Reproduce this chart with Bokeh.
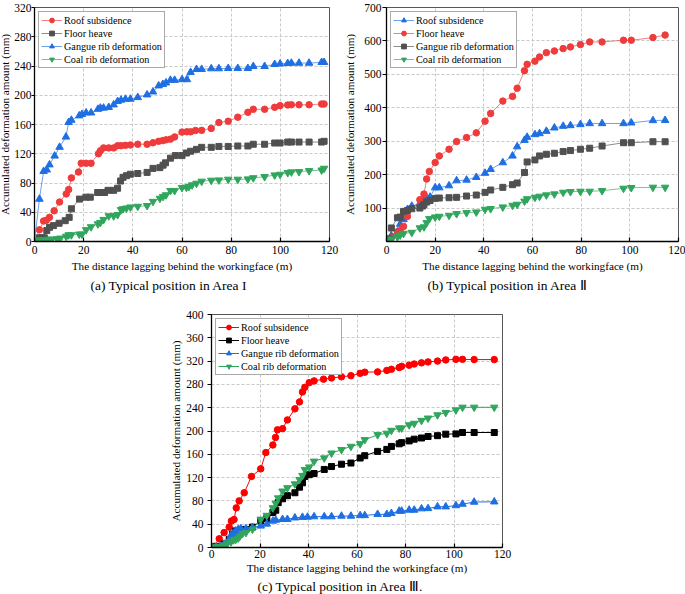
from bokeh.plotting import figure
from bokeh.models import Range1d, FixedTicker, Legend, LegendItem, Title, Spacer
from bokeh.layouts import row, column
from bokeh.core.properties import value
from bokeh.embed import file_html
from bokeh.resources import INLINE

FONT = "Liberation Serif"

# ---------------- Panel (a) : Area I ----------------
a_roof_x = [0, 2, 3.7, 4.8, 6.1, 8, 10.2, 12.9, 13.9, 15, 17.9, 19, 21, 23, 26, 26.8, 28.1, 30.2, 32.2, 33.8,
            35.2, 37, 39, 42, 45.8, 48.2, 50.5, 52.2, 53.5, 55.3, 57, 60, 62, 63.5, 65.5, 68, 71.9, 75, 78.8, 82.7,
            86.8, 89, 93.6, 97.7, 99.9, 103, 104.5, 107.6, 111.7, 116.8, 117.8]
a_roof_y = [0, 16, 28, 29, 33, 42, 54, 65, 71, 87, 95, 107, 107, 107, 120, 124, 128, 128, 128, 131,
            131, 131.5, 132, 133, 133, 135, 137, 138, 139, 140, 143, 149.6, 150, 150, 151.8, 152, 154.6, 162.7, 164.5, 170,
            176.7, 180.8, 180.8, 183.5, 185.8, 186.7, 187, 187, 187, 188, 188]
a_floor_x = [0, 1.9, 3, 4, 5, 6.1, 7.7, 10, 12.5, 14.1, 15, 18.3, 20.9, 22.7, 25.7, 27.2, 28.5, 29.9, 32.2, 33.8,
             35, 36, 37.4, 39, 42, 45.8, 48.2, 51, 52.3, 53.3, 55.3, 57.3, 60, 61.8, 63.5, 65.9, 68, 71.9, 75, 78.8,
             82.7, 86.8, 89, 93.6, 97.7, 99.9, 103, 104.5, 107.6, 111.7, 116.8, 117.8]
a_floor_y = [0, 5, 5, 5, 15, 19.4, 21.7, 25, 28.5, 33, 44.7, 58, 60.6, 60.6, 67, 67, 67, 70, 70, 72.8,
             82.7, 87.7, 90, 92, 93, 94.5, 100, 101, 104.4, 107.6, 114, 117.5, 117.5, 121, 123.4, 126, 128.8, 128.8, 130, 130,
             130.6, 130.6, 133, 133, 134.7, 134.7, 136, 136, 136, 136, 136, 137]
a_gangue_x = [0, 2, 3.7, 5, 6.1, 8.2, 10.2, 12.8, 13.9, 15, 18.2, 19.3, 21, 23, 25.8, 26.8, 28.1, 30.2, 32.2, 33.8,
              35.2, 37, 39, 42, 45.8, 48.2, 50.5, 52.2, 53.5, 55.3, 57, 60, 62, 63.5, 65.9, 68, 71.9, 75, 78.8, 82.7,
              86.8, 89, 93.6, 97.7, 99.9, 103, 104.5, 107.6, 111.7, 116.8, 117.8]
a_gangue_y = [0, 58, 96, 98, 105, 117, 129, 143, 163, 166, 172, 174, 176, 176, 181, 182.6, 182.6, 183.5, 187, 191.6,
              193.4, 194.8, 194.8, 197, 200.7, 204.7, 213, 215, 217, 220.6, 220.6, 221.5, 221.5, 231.4, 235.5, 235.5, 236.4, 236.4, 236.8, 236.8,
              236.8, 239.5, 239.5, 242.3, 243, 243.6, 244, 244, 244, 245, 245]
a_coal_x = [0, 2, 3.7, 5.7, 7, 9.1, 10.5, 12.9, 13.9, 15, 18.2, 19.3, 21, 23, 25.8, 26.8, 28.1, 30.2, 32.2, 33.8,
            35.2, 36, 37.4, 39, 42, 45.8, 48.2, 51, 52.3, 53.5, 55.3, 57, 60, 61.8, 62.8, 64.1, 65.9, 68, 71.9, 75,
            78.8, 82.7, 86.8, 89, 93.6, 97.7, 99.9, 103, 104.5, 107.6, 111.7, 116.8, 117.8]
a_coal_y = [0, 2, 2, 3, 3, 3.6, 4.5, 7, 9, 9, 10, 10, 16, 20, 24, 26, 30, 35, 35, 36.6,
            43.4, 44.7, 45.6, 47, 48, 49, 54.7, 59, 61.5, 63.7, 69.6, 69.6, 73.7, 74, 75, 77.3, 79.5, 82.3, 83.6, 84,
            85, 85, 85.4, 87, 88.6, 90.8, 91.7, 94, 95, 95.4, 96.7, 97.6, 100]

# ---------------- Panel (b) : Area II ----------------
b_roof_x = [1.1, 2, 4.5, 5.6, 7, 8.6, 10.4, 13.7, 14.8, 15.4, 16.5, 17.9, 20, 21.7, 25.7, 28.8, 32.9, 36.9, 40.5, 42.8,
            47.8, 51.8, 53.7, 56.7, 57.8, 61, 62.9, 65.7, 69, 72.6, 75.6, 79.7, 83.5, 88.6, 97.4, 100.6, 109.5, 114.5]
b_roof_y = [7, 17, 29, 52, 66, 96, 106, 113, 120, 125.5, 129, 133, 161, 161, 167, 182, 184, 192, 204.5, 216,
            236, 256, 283.6, 303, 312, 320, 323, 330, 340, 345, 347, 350, 353, 353, 353, 355, 362, 362.6]
b_floor_x = [1.1, 2, 4.5, 5.6, 7, 8.6, 13.7, 15.4, 16.5, 17.6, 20, 21.7, 25.7, 28.8, 32.9, 36.9, 40.5, 42.8, 47.8, 51.8,
             53.7, 56.7, 57.8, 61, 62.9, 65.7, 69, 72.6, 75.6, 79.7, 83.5, 88.6, 97.4, 100.6, 109.5, 114.5]
b_floor_y = [9, 11, 29, 32, 45, 75, 125, 142, 187, 209.5, 236, 256, 276, 299, 311, 325, 360, 383, 420, 434,
             458.5, 511, 530, 539.5, 552, 565, 570, 577, 582, 589, 597, 597, 602, 602, 610, 617.6]
b_gangue_x = [1.1, 2, 4.5, 5.6, 7, 8.6, 10.4, 13.7, 14.8, 15.4, 16.5, 17.9, 20, 21.7, 25.7, 28.8, 32.9, 36.9, 40.5, 42.8,
              47.8, 51.8, 53.7, 56.7, 57.8, 61, 62.9, 65.7, 69, 72.6, 75.6, 79.7, 83.5, 88.6, 97.4, 100.6, 109.5, 114.5]
b_gangue_y = [7, 40.5, 71, 73, 90, 93, 98, 100, 106, 110, 118, 122.5, 129, 130, 131, 132, 136, 139, 147, 154,
              162, 170, 175, 206.5, 238, 244, 256, 261, 264, 269, 272, 276, 279, 285.6, 295.5, 295.5, 298.4, 298.4]
b_coal_x = [1.1, 2, 4.5, 5.6, 7, 10.4, 13.7, 15.4, 16.5, 17.6, 20, 21.7, 25.7, 28.8, 32.9, 36.9, 40.5, 42.8, 47.8, 51.8,
            53.7, 56.7, 57.8, 61, 62.9, 65.7, 69, 72.6, 75.6, 79.7, 83.5, 88.6, 97.4, 100.6, 109.5, 114.5]
b_coal_y = [4, 7, 14, 19, 24, 27, 40.5, 43.5, 56, 68, 73, 75, 78, 83, 86, 88, 96, 98, 103, 108,
            111, 120.5, 127.5, 132, 135, 139, 142, 147, 149, 150, 150, 152, 159, 161, 162, 162]

# ---------------- Panel (c) : Area III ----------------
c_roof_x = [0, 1.1, 3.2, 5.2, 7.3, 8.2, 9.3, 10.2, 11.4, 13.5, 16.5, 20.3, 22.4, 25.3, 26.4, 27.2, 29.3, 31.3, 34.4, 36.3,
            37.5, 38.5, 40.3, 42.3, 46.2, 49.5, 53.6, 57.5, 61.3, 63.2, 68.5, 72.3, 74.2, 77.4, 78.4, 81.5, 83.6, 86.6, 89.3, 93.2,
            96.6, 100.8, 103.5, 108.3, 116.6]
c_roof_y = [0, 2, 15, 25.6, 35, 45.5, 48, 68, 80, 94, 122, 135, 163, 176, 189, 202, 204, 219, 238, 250,
            267, 275, 283, 286, 289, 291, 293, 295, 299, 301, 301.5, 304, 306, 309, 311, 313, 315, 317, 318.6, 320,
            322, 323, 323, 322.6, 322.6]
c_floor_x = [0, 1.8, 3.8, 5.2, 7.3, 8.7, 10, 12.1, 14.2, 16.9, 20.3, 22.8, 25.3, 26.5, 27.5, 29.3, 31.3, 34.4, 36.3, 37.5,
             38.5, 40.3, 42.3, 46.5, 49.5, 53.6, 57.5, 61.3, 63.2, 68.5, 72.3, 74.2, 77.4, 78.4, 81.5, 83.6, 86.6, 89.3, 93.2, 96.6,
             100.8, 103.5, 108.3, 116.6]
c_floor_y = [0, 1, 2, 6, 14, 23, 28.5, 31, 31, 35, 45.5, 50, 60, 64, 77, 83.6, 89, 94, 103.6, 111,
             122, 125, 127, 134, 139, 143, 145, 153.6, 157.6, 165, 168.4, 173.5, 178, 180, 183, 186, 188, 190.6, 192, 194.6,
             195, 197.4, 197.4, 197.4]
c_gangue_x = [0, 1.8, 3.8, 5.2, 7.3, 8, 9.1, 10, 11, 12.1, 14.2, 16.9, 20.3, 22.8, 25.3, 26.5, 29.3, 31.3, 34.4, 37.5,
              39.6, 42.3, 46.5, 49.5, 53.6, 57.5, 61.3, 63.2, 68.5, 72.3, 74.2, 77.4, 78.4, 81.5, 83.6, 86.6, 89.3, 93.2, 96.6, 100.8,
              103.5, 108.3, 116.6]
c_gangue_y = [0, 1, 2, 6, 14, 21, 24.5, 28.5, 31, 32.4, 32.4, 34.7, 37, 40.4, 45.5, 47, 48.4, 48.4, 51, 52,
              52.3, 53, 53, 53, 54, 54, 55, 55, 57, 57, 58.6, 62.6, 62.6, 64.3, 64.3, 66.6, 67, 70, 70, 72,
              74.5, 78, 78.5]
c_coal_x = [0, 1.8, 3.8, 5.2, 6.6, 8, 9.1, 10, 11, 11.8, 12.8, 14.2, 16.9, 20.3, 22.8, 25.3, 26.5, 27.5, 29.3, 31.3,
            34.4, 36.3, 37.5, 38.5, 40.3, 42.3, 46.5, 49.5, 53.6, 57.5, 61.3, 63.2, 68.5, 72.3, 74.2, 77.4, 78.4, 81.5, 83.6, 86.6,
            89.3, 93.2, 96.6, 100.8, 103.5, 108.3, 116.6]
c_coal_y = [0, 1, 2, 4, 7.4, 9.7, 13, 14, 16, 20, 24, 25.6, 31.3, 48.4, 55, 68, 75.7, 85, 96.7, 102.4,
            109, 116.6, 123.5, 133.7, 138, 148, 153.6, 162, 168, 173.5, 178, 185, 193.5, 196, 201, 205, 205, 210.5, 213, 218,
            222, 227.6, 231.6, 236, 240.7, 240.7, 240.7]

x_ticks = [0, 20, 40, 60, 80, 100, 120]
a_y_ticks = [0, 40, 80, 120, 160, 200, 240, 280, 320]
b_y_ticks = [100, 200, 300, 400, 500, 600, 700]
c_y_ticks = [0, 40, 80, 120, 160, 200, 240, 280, 320, 360, 400]

X_LABEL = "The distance lagging behind the workingface (m)"
Y_LABEL = "Accumulated deformation amount (mm)"

RED = "#ef3b3b"
BLUE = "#1f6fe3"
GREEN = "#2fa65c"
GRAY = "#505050"


def panel(width, height, borders, ymax, yticks, series, caption, cap_offset,
          tick_standoff=4, xlabel_standoff=3, ylabel_standoff=2, ytick_standoff=1, ytick_out=4,
          cap_standoff=3, line_alpha=0.65):
    bl, br, bt, bb = borders
    p = figure(width=width, height=height, x_range=Range1d(0, 120), y_range=Range1d(0, ymax),
               output_backend="svg", toolbar_location=None,
               min_border_left=bl, min_border_right=br, min_border_top=bt, min_border_bottom=bb)
    p.background_fill_color = "white"
    p.border_fill_color = "white"
    p.outline_line_color = "#555555"
    p.outline_line_width = 1

    p.xaxis.ticker = FixedTicker(ticks=x_ticks)
    p.yaxis.ticker = FixedTicker(ticks=yticks)
    p.xaxis.axis_label = X_LABEL
    p.yaxis.axis_label = Y_LABEL
    for ax in (p.xaxis, p.yaxis):
        ax.axis_label_text_font = FONT
        ax.axis_label_text_font_size = "11.2px"
        ax.axis_label_text_font_style = "normal"
        ax.axis_label_text_color = "black"
        ax.major_label_text_font = FONT
        ax.major_label_text_font_size = "11.5px"
        ax.major_label_text_color = "black"
        ax.axis_line_color = "black"
        ax.axis_line_width = 1.3
        ax.major_tick_line_color = "black"
        ax.major_tick_line_width = 1.2
        ax.minor_tick_line_color = None
    p.xaxis.major_tick_in = 4
    p.xaxis.major_tick_out = 0
    p.yaxis.major_tick_in = 0
    p.yaxis.major_tick_out = ytick_out
    p.xaxis.major_label_standoff = tick_standoff
    p.yaxis.major_label_standoff = ytick_standoff
    p.xaxis.axis_label_standoff = xlabel_standoff
    p.yaxis.axis_label_standoff = ylabel_standoff

    for g in (p.xgrid, p.ygrid):
        g.grid_line_color = "#c8c8c8"
        g.grid_line_dash = "3 2"
        g.grid_line_width = 1

    items = []
    for name, xs, ys, marker, color, lcolor, size in series:
        lr = p.line(xs, ys, line_color=lcolor, line_width=1, line_alpha=line_alpha)
        sr = p.scatter(xs, ys, marker=marker, size=size, fill_color=color, line_color=color)
        items.append(LegendItem(label=value(name), renderers=[lr, sr]))

    legend = Legend(items=items, location="top_left", margin=4, padding=2, spacing=1,
                    label_height=12, glyph_height=12, glyph_width=21, label_standoff=2,
                    label_text_font=FONT, label_text_font_size="10.2px", label_text_color="black",
                    border_line_color="#555555", border_line_width=1,
                    background_fill_color="white", background_fill_alpha=1)
    p.add_layout(legend)

    cap = Title(text=caption, align="left", offset=cap_offset, standoff=cap_standoff,
                text_font=FONT, text_font_size="13.5px", text_font_style="normal", text_color="black")
    p.add_layout(cap, "below")
    return p


fa = panel(344, 300, (38, 11, 5, 59), 320, a_y_ticks, [
    ("Roof subsidence", a_roof_x, a_roof_y, "circle", RED, RED, 6.5),
    ("Floor heave", a_floor_x, a_floor_y, "square", GRAY, GRAY, 6),
    ("Gangue rib deformation", a_gangue_x, a_gangue_y, "triangle", BLUE, BLUE, 7.5),
    ("Coal rib deformation", a_coal_x, a_coal_y, "inverted_triangle", GREEN, GREEN, 7.5),
], "(a) Typical position in Area I", 56, ylabel_standoff=0, ytick_standoff=0, ytick_out=3)

fb = panel(345, 300, (46, 7, 7, 59), 700, b_y_ticks, [
    ("Roof subsidence", b_roof_x, b_roof_y, "triangle", BLUE, BLUE, 7.5),
    ("Floor heave", b_floor_x, b_floor_y, "circle", RED, RED, 6.5),
    ("Gangue rib deformation", b_gangue_x, b_gangue_y, "square", GRAY, GRAY, 6),
    ("Coal rib deformation", b_coal_x, b_coal_y, "inverted_triangle", GREEN, GREEN, 7.5),
], "(b) Typical position in Area \u2161", 41, ylabel_standoff=5)

fc = panel(360, 294, (51, 18, 14, 47), 400, c_y_ticks, [
    ("Roof subsidence", c_roof_x, c_roof_y, "circle", "#ff0000", "#ff0000", 6.5),
    ("Floor heave", c_floor_x, c_floor_y, "square", "#000000", "#000000", 6),
    ("Gangue rib deformation", c_gangue_x, c_gangue_y, "triangle", BLUE, BLUE, 7.5),
    ("Coal rib deformation", c_coal_x, c_coal_y, "inverted_triangle", GREEN, GREEN, 7.5),
], "(c) Typical position in Area \u2162.", 46, tick_standoff=2, xlabel_standoff=1,
    ytick_standoff=4, ylabel_standoff=1, cap_standoff=1, line_alpha=1.0)

layout = column(row(fa, fb), row(Spacer(width=164, height=294), fc),
                styles={"position": "absolute", "left": "-4px", "top": "0px"})

open("out.html", "w").write(file_html(layout, INLINE))
